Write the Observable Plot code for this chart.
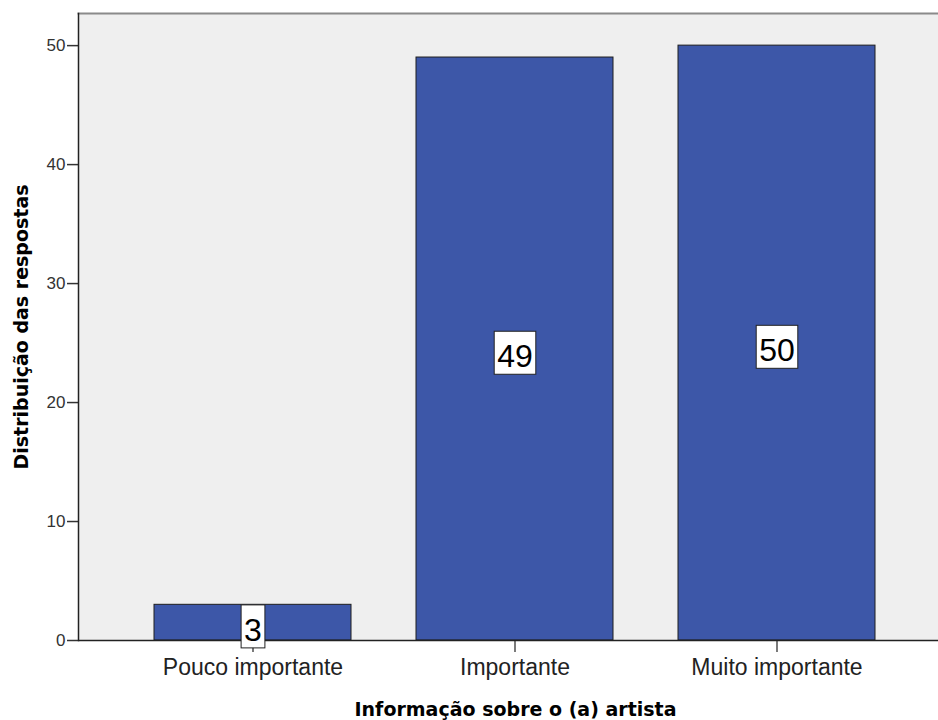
<!DOCTYPE html>
<html><head><meta charset="utf-8">
<script src="https://cdn.jsdelivr.net/npm/d3@7"></script>
<script src="https://cdn.jsdelivr.net/npm/@observablehq/plot@0.6"></script>
<style>body{margin:0;background:#fff}</style>
</head><body><div id="chart"></div>
<script>
const categories = ["Pouco importante", "Importante", "Muito importante"];
const counts = [3, 49, 50];
const yTicks = [0, 10, 20, 30, 40, 50];
const xTitle = "Informação sobre o (a) artista";
const yTitle = "Distribuição das respostas";

const data = categories.map((c, i) => ({category: c, count: counts[i]}));

const chart = Plot.plot({
  width: 938, height: 720,
  marginTop: 13, marginBottom: 80, marginLeft: 78, marginRight: 0,
  style: {fontFamily: "'Liberation Sans', Arial, sans-serif", background: "#fff", overflow: "visible"},
  x: {domain: categories, paddingInner: 0.25, paddingOuter: 0.266, align: 0.547, label: null},
  y: {domain: [0, 52.7], label: null},
  marks: [
    Plot.frame({fill: "#efefef", stroke: null}),
    Plot.barY(data, {x: "category", y: "count", fill: "#3d57a8", stroke: "#1e1e1e", strokeWidth: 1}),
    Plot.frame({anchor: "top", stroke: "#8a8a8a", strokeWidth: 2}),
    Plot.axisY({ticks: yTicks, tickSize: 11, tickPadding: 2, fontSize: 17, color: "#333", strokeWidth: 1.5, label: null}),
    Plot.axisX({tickSize: 12, tickPadding: 6, fontSize: 23, color: "#222", strokeWidth: 1.2, label: null}),
    Plot.ruleY([0], {stroke: "#222", strokeWidth: 1.5}),
    Plot.frame({anchor: "left", stroke: "#222", strokeWidth: 1.5}),
    Plot.text(data, {x: "category", y: d => d.count / 2, text: d => String(d.count), fontSize: 32, fill: "#000", dy: 8}),
    Plot.text([xTitle], {frameAnchor: "bottom", textAnchor: "middle", lineAnchor: "middle", dy: 69, dx: 7, fontSize: 19, fontWeight: "bold", fontFamily: "'DejaVu Sans', sans-serif", fill: "#000"}),
    Plot.text([yTitle], {frameAnchor: "left", textAnchor: "middle", lineAnchor: "middle", rotate: -90, dx: -57, dy: 0, fontSize: 19, fontWeight: "bold", fontFamily: "'DejaVu Sans', sans-serif", fill: "#000"})
  ]
});

document.getElementById("chart").append(chart);

const labelSet = new Set(counts.map(String));
chart.querySelectorAll("g").forEach(g => {
  if (g.getAttribute("font-size") !== "32") return;
  Array.from(g.querySelectorAll("text")).forEach(t => {
    if (!labelSet.has(t.textContent)) return;
    const b = t.getBBox();
    const r = document.createElementNS("http://www.w3.org/2000/svg", "rect");
    r.setAttribute("x", b.x - 3);
    r.setAttribute("y", b.y - 7);
    r.setAttribute("width", b.width + 6);
    r.setAttribute("height", b.height + 7);
    r.setAttribute("fill", "#fff");
    r.setAttribute("stroke", "#222");
    r.setAttribute("stroke-width", 1);
    const tr = t.getAttribute("transform");
    if (tr) r.setAttribute("transform", tr);
    t.parentNode.insertBefore(r, t);
  });
});
</script>
</body></html>
